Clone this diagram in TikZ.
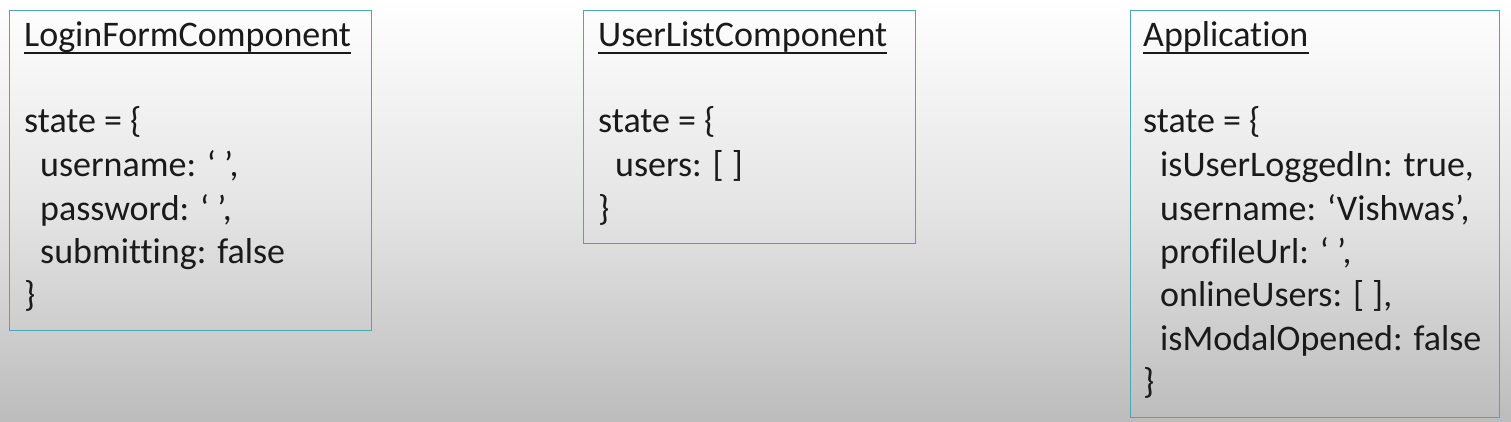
\documentclass[tikz,border=0pt]{standalone}
\usepackage{fontspec}
\setmainfont[Ligatures=NoCommon]{Carlito}
\definecolor{bordc}{HTML}{4FA3BA}
\definecolor{txtc}{HTML}{1A1A1A}
\definecolor{bgtop}{HTML}{FFFFFF}
\definecolor{bgmid}{HTML}{E4E4E4}
\definecolor{bgbot}{HTML}{BCBCBC}
\begin{document}
\begin{tikzpicture}[x=1pt,y=-1pt,
  box/.style={draw=bordc, line width=1.3pt, rectangle, inner sep=0pt, anchor=north west},
  txt/.style={anchor=base west, inner sep=0pt, text=txtc, font=\fontsize{36}{43}\selectfont},
  uline/.style={draw=txtc, line width=1.8pt}]
\shade[top color=bgtop, bottom color=bgbot, middle color=bgmid] (0,0) rectangle (1511,422);
\useasboundingbox (0,0) rectangle (1511,422);
% box 1
\node[box, minimum width=362pt, minimum height=320pt] (b1) at (9,10) {};
\node[txt] (t1) at (24,47) {LoginFormComponent};
\draw[uline] ([yshift=-6pt]t1.base west) -- ([yshift=-6pt]t1.base east);
\node[txt] (a1) at (24,133) {state = \{};
\node[txt] (a2) at (40,176.5) {username: ‘ ’,};
\node[txt] (a3) at (40,220) {password: ‘ ’,};
\node[txt] (a4) at (40,263) {submitting: false};
\node[txt] (a5) at (24,306.5) {\}};
% box 2
\node[box, minimum width=332pt, minimum height=233pt] (b2) at (583,10) {};
\node[txt] (t2) at (598,47) {UserListComponent};
\draw[uline] ([yshift=-6pt]t2.base west) -- ([yshift=-6pt]t2.base east);
\node[txt] (c1) at (598,133) {state = \{};
\node[txt] (c2) at (615,176.5) {users: [ ]};
\node[txt] (c3) at (598,220) {\}};
% box 3
\node[box, minimum width=369pt, minimum height=407pt] (b3) at (1130,10) {};
\node[txt] (t3) at (1143,47) {Application};
\draw[uline] ([yshift=-6pt]t3.base west) -- ([yshift=-6pt]t3.base east);
\node[txt] (d1) at (1143,133) {state = \{};
\node[txt] (d2) at (1160,176.5) {isUserLoggedIn: true,};
\node[txt] (d3) at (1160,220) {username: ‘Vishwas’,};
\node[txt] (d4) at (1160,263) {profileUrl: ‘ ’,};
\node[txt] (d5) at (1160,306.5) {onlineUsers: [ ],};
\node[txt] (d6) at (1160,350) {isModalOpened: false};
\node[txt] (d7) at (1143,393) {\}};
\end{tikzpicture}
\end{document}
